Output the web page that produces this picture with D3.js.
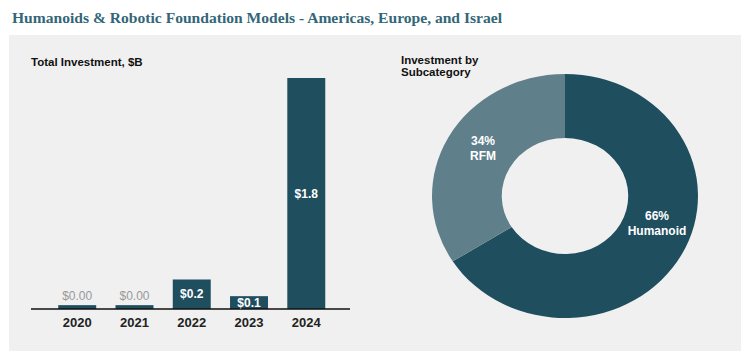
<!DOCTYPE html>
<html>
<head>
<meta charset="utf-8">
<script src="https://cdn.jsdelivr.net/npm/d3@7"></script>
<style>
  body { margin: 0; background: #fff; }
  svg { display: block; font-family: "Liberation Sans", Arial, sans-serif; }
</style>
</head>
<body>
<div id="chart"></div>
<script>
// Data
const years = ['2020', '2021', '2022', '2023', '2024'];
const investment = [0.03, 0.03, 0.23, 0.1, 1.8];
const investmentLabels = ['$0.00', '$0.00', '$0.2', '$0.1', '$1.8'];

const subcategories = ['Humanoid', 'RFM'];
const shares = [66, 34];

const width = 741;
const height = 352;
const dark = '#1f4e5f';
const light = '#5f7f8b';

const svg = d3.select('#chart')
  .append('svg')
  .attr('width', width)
  .attr('height', height);

// Title
svg.append('text')
  .attr('x', 12)
  .attr('y', 23)
  .attr('font-family', '"Liberation Serif", "DejaVu Serif", serif')
  .attr('font-weight', 'bold')
  .attr('font-size', 15.5)
  .attr('textLength', 490)
  .attr('lengthAdjust', 'spacingAndGlyphs')
  .attr('fill', '#336678')
  .text('Humanoids & Robotic Foundation Models - Americas, Europe, and Israel');

// Grey panel
svg.append('rect')
  .attr('x', 9)
  .attr('y', 35)
  .attr('width', width - 9)
  .attr('height', height - 36)
  .attr('fill', '#f0f0f0');

// ---- Bar chart ----
const baseY = 309;

svg.append('text')
  .attr('x', 31)
  .attr('y', 66)
  .attr('font-weight', 'bold')
  .attr('font-size', 11.5)
  .attr('fill', '#111')
  .text('Total Investment, $B');

const x = d3.scaleBand()
  .domain(years)
  .range([48.5, 335])
  .paddingInner(0.337)
  .paddingOuter(0.17);

const y = d3.scaleLinear()
  .domain([0, 1.8])
  .range([baseY, 78]);

const barData = years.map((yr, i) => ({ year: yr, value: investment[i], label: investmentLabels[i] }));

svg.selectAll('rect.bar')
  .data(barData)
  .enter()
  .append('rect')
  .attr('class', 'bar')
  .attr('x', d => x(d.year))
  .attr('y', d => y(d.value))
  .attr('width', x.bandwidth())
  .attr('height', d => baseY - y(d.value))
  .attr('fill', dark);

// baseline
svg.append('line')
  .attr('x1', 31)
  .attr('x2', 350)
  .attr('y1', baseY)
  .attr('y2', baseY)
  .attr('stroke', '#111')
  .attr('stroke-width', 1.5);

// x axis labels
const xAxis = svg.append('g')
  .attr('transform', `translate(0,${baseY})`)
  .call(d3.axisBottom(x).tickSize(0).tickPadding(9));
xAxis.select('.domain').remove();
xAxis.selectAll('text')
  .attr('font-family', '"Liberation Sans", Arial, sans-serif')
  .attr('font-weight', 'bold')
  .attr('font-size', 13)
  .attr('fill', '#222');

// value labels
svg.selectAll('text.val')
  .data(barData)
  .enter()
  .append('text')
  .attr('class', 'val')
  .attr('x', d => x(d.year) + x.bandwidth() / 2)
  .attr('y', d => d.value < 0.05 ? y(d.value) - 5 : (y(d.value) + baseY) / 2)
  .attr('dy', d => d.value < 0.05 ? 0 : '0.35em')
  .attr('text-anchor', 'middle')
  .attr('font-size', 12)
  .attr('font-weight', d => d.value < 0.05 ? 'normal' : 'bold')
  .attr('fill', d => d.value < 0.05 ? '#999' : '#fff')
  .text(d => d.label);

// ---- Donut ----
const cx = 565, cy = 196;
const outerR = 122, innerR = 58;
const stretch = 1.09;
const labelNudge = [[7, -16], [3, -5]];

svg.append('text')
  .attr('x', 401)
  .attr('y', 64)
  .attr('font-weight', 'bold')
  .attr('font-size', 11.5)
  .attr('fill', '#111')
  .selectAll('tspan')
  .data(['Investment by', 'Subcategory'])
  .enter()
  .append('tspan')
  .attr('x', 401)
  .attr('dy', (d, i) => i === 0 ? 0 : 11.5)
  .text(d => d);

const pieData = d3.pie().sort(null)(shares);
const arc = d3.arc().innerRadius(innerR).outerRadius(outerR);
const labelArc = d3.arc().innerRadius(89).outerRadius(89);
const colors = d3.scaleOrdinal().domain(subcategories).range([dark, light]);

const donut = svg.append('g')
  .attr('transform', `translate(${cx},${cy})`);

donut.append('g')
  .attr('transform', `scale(${stretch},1)`)
  .selectAll('path')
  .data(pieData)
  .enter()
  .append('path')
  .attr('d', arc)
  .attr('fill', (d, i) => colors(subcategories[i]));

const labels = donut.selectAll('text.slice')
  .data(pieData)
  .enter()
  .append('text')
  .attr('class', 'slice')
  .attr('text-anchor', 'middle')
  .attr('font-size', 12)
  .attr('font-weight', 'bold')
  .attr('fill', '#fff')
  .attr('transform', (d, i) => {
    const c = labelArc.centroid(d);
    return `translate(${c[0] * stretch + labelNudge[i][0]},${c[1] + labelNudge[i][1]})`;
  });

labels.append('tspan')
  .attr('x', 0)
  .attr('y', -3)
  .text(d => d.data + '%');
labels.append('tspan')
  .attr('x', 0)
  .attr('y', 12)
  .text((d, i) => subcategories[i]);
</script>
</body>
</html>
